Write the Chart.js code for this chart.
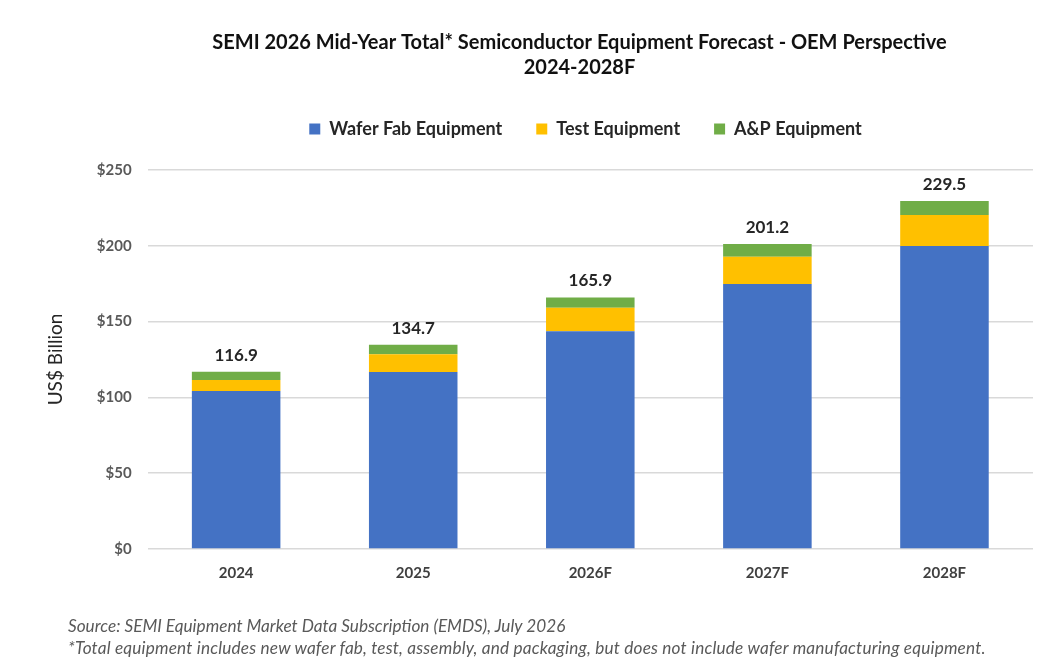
<!DOCTYPE html>
<html>
<head>
<meta charset="utf-8">
<script src="https://cdn.jsdelivr.net/npm/chart.js@4.4.1/dist/chart.umd.min.js"></script>
<style>
  html, body { margin: 0; padding: 0; background: #ffffff; }
  #wrap { position: relative; width: 1054px; height: 670px; overflow: hidden; }
  #c { position: absolute; left: 0; top: 0; }
  .note { position: absolute; left: 68px; font-family: Lato, "Open Sans", sans-serif; font-style: italic; font-size: 17.2px; color: #595959; white-space: nowrap; line-height: 20px; }
</style>
</head>
<body>
<div id="wrap">
  <canvas id="c" width="1054" height="670"></canvas>
  <div class="note" id="n1" style="top:616px;">Source: SEMI Equipment Market Data Subscription (EMDS), July 2026</div>
  <div class="note" id="n2" style="top:638px; letter-spacing:0.18px;">*Total equipment includes new wafer fab, test, assembly, and packaging, but does not include wafer manufacturing equipment.</div>
</div>
<script>
const categories = ['2024', '2025', '2026F', '2027F', '2028F'];
const waferFab = [104.2, 116.8, 143.6, 174.8, 199.9];
const testEquip = [7.3, 11.6, 15.6, 18.0, 20.4];
const apEquip = [5.4, 6.3, 6.7, 8.4, 9.2];
const totalLabels = ['116.9', '134.7', '165.9', '201.2', '229.5'];
const yTicks = [0, 50, 100, 150, 200, 250];

const FONT = 'Lato, "Open Sans", sans-serif';

const totalsPlugin = {
  id: 'totals',
  afterDatasetsDraw(chart) {
    const ctx = chart.ctx;
    const last = chart.data.datasets.length - 1;
    const meta = chart.getDatasetMeta(last);
    ctx.save();
    ctx.font = 'bold 17px ' + FONT;
    ctx.fillStyle = '#262626';
    ctx.textAlign = 'center';
    ctx.textBaseline = 'bottom';
    meta.data.forEach((bar, i) => {
      ctx.fillText(totalLabels[i], bar.x, bar.y - 8);
    });
    ctx.restore();
  }
};

const legendSpace = {
  id: 'legendSpace',
  beforeInit(chart) {
    const orig = chart.legend.fit;
    chart.legend.fit = function () {
      orig.bind(chart.legend)();
      this.height = 84;
    };
  },
  afterUpdate(chart) {
    // the header block in the original is centred a little right of the canvas centre
    if (chart.titleBlock) { chart.titleBlock.left += 43; chart.titleBlock.right += 43; }
    if (chart.legend) { chart.legend.left += 49; chart.legend.right += 49; }
  }
};

new Chart(document.getElementById('c'), {
  type: 'bar',
  data: {
    labels: categories,
    datasets: [
      { label: 'Wafer Fab Equipment', data: waferFab, backgroundColor: '#4472C4' },
      { label: 'Test Equipment', data: testEquip, backgroundColor: '#FFC000' },
      { label: 'A&P Equipment', data: apEquip, backgroundColor: '#70AD47' }
    ]
  },
  options: {
    responsive: false,
    animation: false,
    devicePixelRatio: 1,
    layout: { padding: { left: 40, right: 21, top: 30, bottom: 81 } },
    datasets: { bar: { categoryPercentage: 1.0, barPercentage: 0.5, borderWidth: 0 } },
    plugins: {
      title: {
        display: true,
        text: ['SEMI 2026 Mid-Year Total* Semiconductor Equipment Forecast - OEM Perspective', '2024-2028F'],
        color: '#111111',
        font: { family: FONT, size: 20, weight: 'bold', lineHeight: 1.25 },
        padding: { top: 0, bottom: 6 }
      },
      legend: {
        display: true,
        position: 'top',
        labels: {
          boxWidth: 11, boxHeight: 11, padding: 34,
          color: '#262626',
          font: { family: FONT, size: 18, weight: 'bold' }
        }
      },
      tooltip: { enabled: false }
    },
    scales: {
      x: {
        stacked: true,
        grid: { display: false },
        border: { display: false },
        ticks: { color: '#404040', font: { family: FONT, size: 15, weight: 'bold' }, padding: 7 }
      },
      y: {
        stacked: true,
        min: 0, max: 250,
        afterBuildTicks(axis) { axis.ticks = yTicks.map(v => ({ value: v })); },
        grid: { color: '#d9d9d9', lineWidth: 1.5, drawTicks: false },
        border: { display: false },
        ticks: {
          color: '#595959',
          padding: 16,
          font: { family: FONT, size: 15, weight: 'bold' },
          callback: v => '$' + v
        },
        title: {
          display: true, text: 'US$ Billion', color: '#262626',
          font: { family: FONT, size: 19 }, padding: { bottom: 14 }
        }
      }
    }
  },
  plugins: [legendSpace, totalsPlugin]
});
</script>
</body>
</html>
